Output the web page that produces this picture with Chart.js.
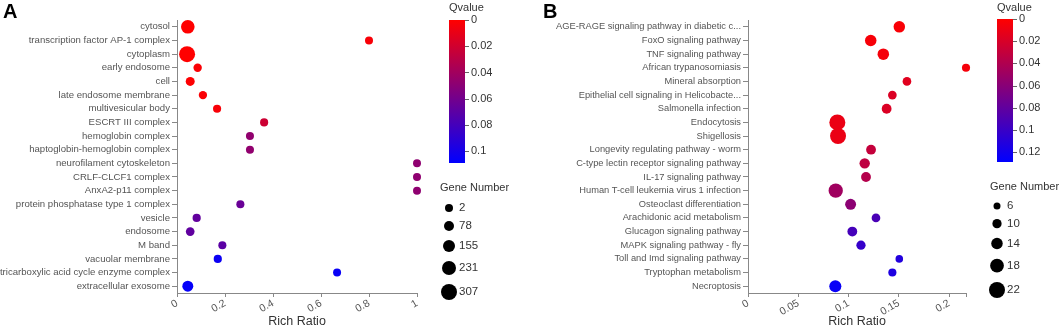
<!DOCTYPE html>
<html>
<head>
<meta charset="utf-8">
<script src="https://cdn.jsdelivr.net/npm/chart.js@4.4.1/dist/chart.umd.min.js"></script>
<style>
  body { margin: 0; background: #fff; width: 1059px; height: 329px; overflow: hidden; position: relative; }
  .panel { position: absolute; top: 0; height: 329px; }
  #wrapA { left: 0; width: 520px; }
  #wrapB { left: 520px; width: 539px; }
  .tag { position: absolute; top: 0; font: bold 20px "Liberation Sans", Arial, sans-serif; color: #000; line-height: 22px; }
</style>
</head>
<body>
<div class="panel" id="wrapA"><canvas id="chartA"></canvas></div>
<div class="panel" id="wrapB"><canvas id="chartB"></canvas></div>
<div class="tag" style="left:3px">A</div>
<div class="tag" style="left:543px">B</div>
<script>
// ---- panel A : GO terms ----
const termsA = [
  "cytosol", "transcription factor AP-1 complex", "cytoplasm", "early endosome", "cell",
  "late endosome membrane", "multivesicular body", "ESCRT III complex", "hemoglobin complex",
  "haptoglobin-hemoglobin complex", "neurofilament cytoskeleton", "CRLF-CLCF1 complex",
  "AnxA2-p11 complex", "protein phosphatase type 1 complex", "vesicle", "endosome", "M band",
  "vacuolar membrane", "tricarboxylic acid cycle enzyme complex", "extracellular exosome"
];
const ratioA = [0.045, 0.80, 0.042, 0.086, 0.055, 0.108, 0.167, 0.363, 0.304, 0.304,
                1, 1, 1, 0.264, 0.082, 0.055, 0.189, 0.170, 0.667, 0.045];
const qvalA = [0.000, 0.003, 0.000, 0.002, 0.001, 0.002, 0.003, 0.022, 0.047, 0.047,
               0.048, 0.048, 0.048, 0.064, 0.067, 0.068, 0.070, 0.104, 0.105, 0.107];
const genesA = [215, 2, 307, 18, 40, 15, 8, 6, 3, 3, 2, 2, 2, 5, 10, 28, 4, 10, 2, 115];
const qTicksA = [0, 0.02, 0.04, 0.06, 0.08, 0.1];
const sizeTicksA = [2, 78, 155, 231, 307];

// ---- panel B : KEGG pathways ----
const termsB = [
  "AGE-RAGE signaling pathway in diabetic c...", "FoxO signaling pathway", "TNF signaling pathway",
  "African trypanosomiasis", "Mineral absorption", "Epithelial cell signaling in Helicobacte...",
  "Salmonella infection", "Endocytosis", "Shigellosis", "Longevity regulating pathway - worm",
  "C-type lectin receptor signaling pathway", "IL-17 signaling pathway",
  "Human T-cell leukemia virus 1 infection", "Osteoclast differentiation",
  "Arachidonic acid metabolism", "Glucagon signaling pathway", "MAPK signaling pathway - fly",
  "Toll and Imd signaling pathway", "Tryptophan metabolism", "Necroptosis"
];
const ratioB = [0.1504, 0.122, 0.1345, 0.2167, 0.158, 0.1435, 0.1378, 0.0888, 0.0895, 0.1223,
                0.116, 0.1173, 0.0872, 0.102, 0.1272, 0.1037, 0.1123, 0.1504, 0.1435, 0.0868];
const qvalB = [0.003, 0.004, 0.005, 0.005, 0.015, 0.018, 0.018, 0.010, 0.010, 0.030,
               0.033, 0.038, 0.048, 0.058, 0.092, 0.094, 0.102, 0.112, 0.114, 0.125];
const genesB = [14, 14, 14, 8, 9, 9, 11, 22, 22, 11, 12, 11, 19, 13, 9, 11, 10, 7, 8, 15];
const qTicksB = [0, 0.02, 0.04, 0.06, 0.08, 0.1, 0.12];
const sizeTicksB = [6, 10, 14, 18, 22];

const FONT = '"Liberation Sans", Arial, sans-serif';

function qColor(q, qMax) {
  const t = Math.max(0, Math.min(1, q / qMax));
  return `rgb(${Math.round(255 * (1 - t))},0,${Math.round(255 * t)})`;
}

const legendPlugin = {
  id: 'enrichLegend',
  afterDraw(chart, args, o) {
    const c = chart.ctx;
    c.save();
    c.fillStyle = '#333';
    c.font = `11px ${FONT}`;
    c.textAlign = 'left';
    c.textBaseline = 'middle';
    c.fillText('Qvalue', o.barX, 8);
    const g = c.createLinearGradient(0, o.barTop, 0, o.barBottom);
    g.addColorStop(0, 'rgb(255,0,0)');
    g.addColorStop(1, 'rgb(0,0,255)');
    c.fillStyle = g;
    c.fillRect(o.barX, o.barTop, 16, o.barBottom - o.barTop);
    c.strokeStyle = '#666';
    c.lineWidth = 1;
    c.fillStyle = '#333';
    o.qTicks.forEach(v => {
      const y = o.barTop + (o.barBottom - o.barTop) * v / o.qMax;
      c.beginPath();
      c.moveTo(o.barX + 16, Math.round(y) + 0.5);
      c.lineTo(o.barX + 20, Math.round(y) + 0.5);
      c.stroke();
      c.fillText(String(v), o.barX + 22, y);
    });
    c.fillText('Gene Number', o.geneX, o.geneY);
    let y = o.dotY0, prevR = null;
    c.font = `11.5px ${FONT}`;
    o.sizeTicks.forEach(v => {
      const r = o.rOf(v);
      if (prevR !== null) y += prevR + r + o.gap;
      c.fillStyle = '#000';
      c.beginPath();
      c.arc(o.barX, y, r, 0, Math.PI * 2);
      c.fill();
      c.fillStyle = '#333';
      c.fillText(String(v), o.barX + 10, y);
      prevR = r;
    });
    c.restore();
  }
};

function makeChart(id, terms, ratio, qval, genes, cfg) {
  const rOf = g => cfg.rMin + (cfg.rMax - cfg.rMin) * (g - cfg.sizeTicks[0]) /
    (cfg.sizeTicks[cfg.sizeTicks.length - 1] - cfg.sizeTicks[0]);
  const points = terms.map((t, i) => ({ x: ratio[i], y: i, r: rOf(genes[i]) }));
  return new Chart(document.getElementById(id), {
    type: 'bubble',
    data: {
      datasets: [{
        data: points,
        backgroundColor: qval.map(q => qColor(q, cfg.qMax)),
        borderWidth: 0,
        hoverRadius: 0,
        clip: false
      }]
    },
    options: {
      responsive: true,
      maintainAspectRatio: false,
      animation: false,
      events: [],
      layout: { padding: { top: 20, right: cfg.padRight, left: 0, bottom: 0 } },
      plugins: {
        legend: { display: false },
        tooltip: { enabled: false },
        enrichLegend: {
          barX: cfg.barX, barTop: cfg.barTop, barBottom: cfg.barBottom, qMax: cfg.qMax,
          qTicks: cfg.qTicks, sizeTicks: cfg.sizeTicks, rOf,
          geneX: cfg.geneX, geneY: cfg.geneY, dotY0: cfg.dotY0, gap: cfg.gap
        }
      },
      scales: {
        x: {
          type: 'linear',
          min: 0,
          max: cfg.xMax,
          afterFit: s => { s.height = 36; },
          afterBuildTicks: s => {
            const last = s.ticks[s.ticks.length - 1];
            if (last && Math.abs(last.value - s.max) > 1e-9) s.ticks.push({ value: s.max, end: true });
          },
          border: { display: true, color: '#888' },
          grid: { display: true, drawOnChartArea: false, tickLength: 4, color: '#888' },
          ticks: {
            stepSize: cfg.xStep,
            includeBounds: false,
            minRotation: 30,
            maxRotation: 30,
            padding: 0,
            color: '#555',
            font: { family: FONT, size: 10.5 },
            callback: (v, i, ticks) => ticks[i].end ? '' : String(+v.toFixed(3))
          },
          title: {
            display: true,
            text: 'Rich Ratio',
            color: '#333',
            padding: { top: 0, bottom: 0 },
            font: { family: FONT, size: 12.5 }
          }
        },
        y: {
          type: 'linear',
          reverse: true,
          min: -0.5,
          max: terms.length - 0.5,
          afterFit: s => { s.width = cfg.yWidth; },
          afterBuildTicks: s => { s.ticks = terms.map((t, i) => ({ value: i })); },
          border: { display: true, color: '#888' },
          grid: { display: true, drawOnChartArea: false, tickLength: 5, color: '#888' },
          ticks: {
            autoSkip: false,
            padding: 2,
            color: '#555',
            font: { family: FONT, size: cfg.yFont },
            callback: v => terms[v]
          }
        }
      }
    },
    plugins: [legendPlugin]
  });
}

makeChart('chartA', termsA, ratioA, qvalA, genesA, {
  xMax: 1, xStep: 0.2, yWidth: 177, padRight: 103, yFont: 9.6,
  qMax: 0.109, qTicks: qTicksA, sizeTicks: sizeTicksA, rMin: 4, rMax: 8,
  barX: 449, barTop: 20, barBottom: 163, geneX: 440, geneY: 188, dotY0: 208, gap: 9
});

makeChart('chartB', termsB, ratioB, qvalB, genesB, {
  xMax: Math.max(...ratioB), xStep: 0.05, yWidth: 228, padRight: 93, yFont: 9.3,
  qMax: 0.129, qTicks: qTicksB, sizeTicks: sizeTicksB, rMin: 3.5, rMax: 8,
  barX: 477, barTop: 19, barBottom: 162, geneX: 470, geneY: 187, dotY0: 206, gap: 9.5
});
</script>
</body>
</html>
